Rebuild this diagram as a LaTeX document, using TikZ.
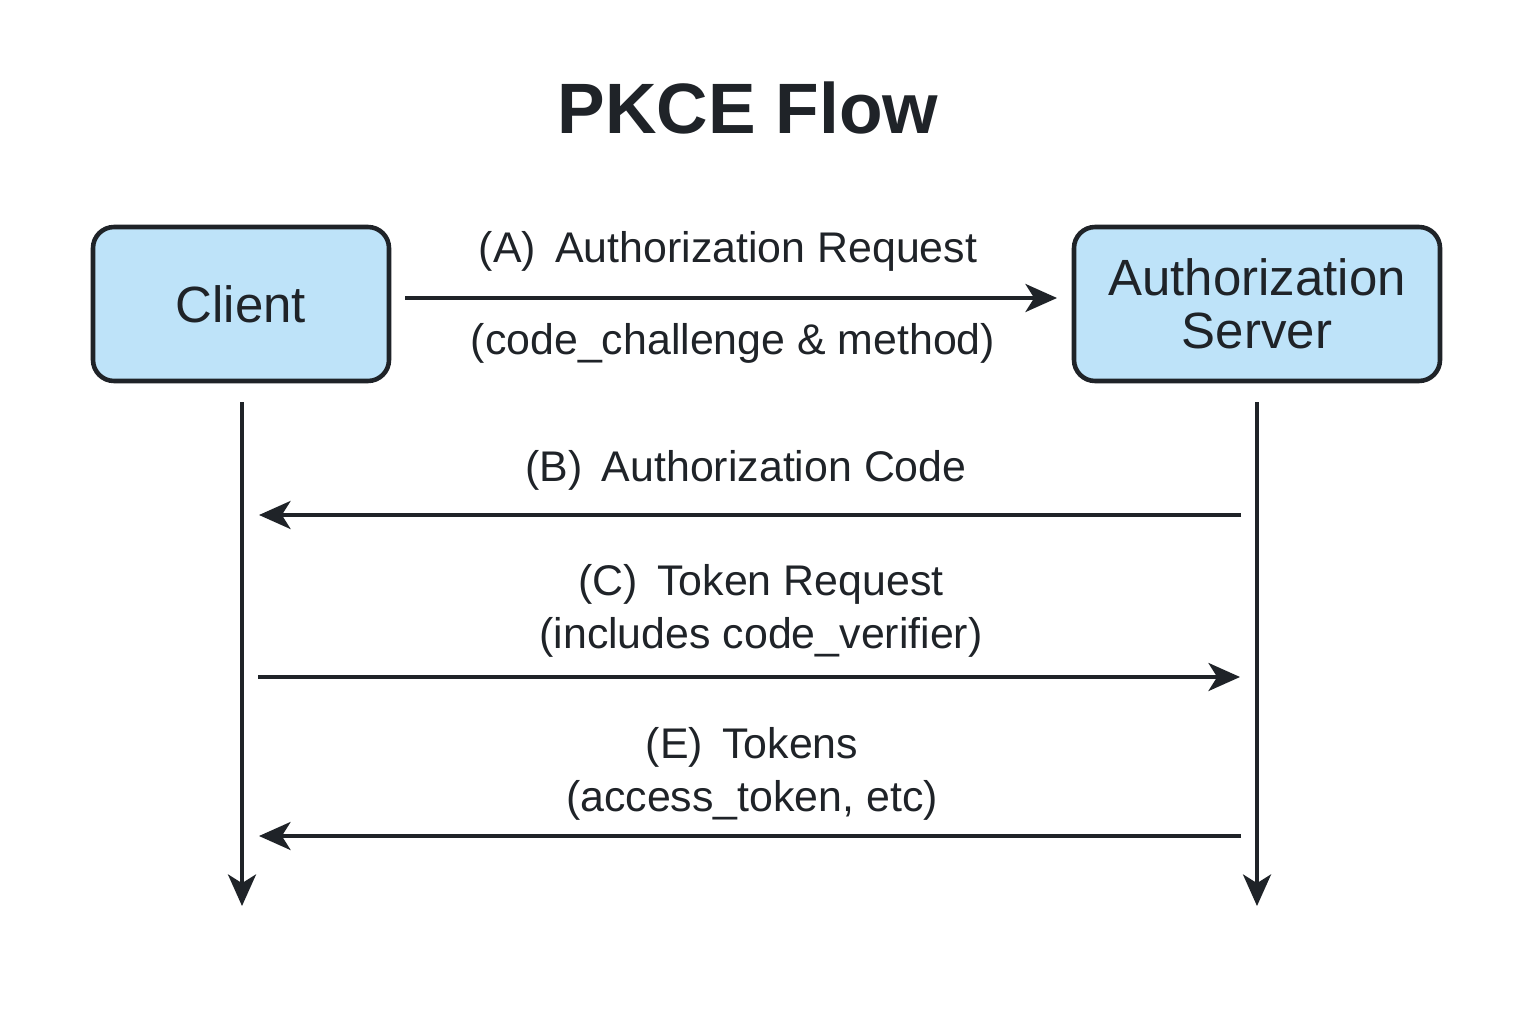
\documentclass[tikz,border=0pt]{standalone}
\usepackage{fontspec}
\setmainfont{Liberation Sans}
\usetikzlibrary{arrows.meta}
\definecolor{boxfill}{HTML}{BEE3F9}
\definecolor{ink}{HTML}{1F2328}
\begin{document}
\begin{tikzpicture}[
    party/.style={draw=ink, fill=boxfill, line width=1.3pt, rounded corners=6pt,
      align=center, text=ink, font=\fontsize{14.5}{15.2}\selectfont},
    lifeline/.style={draw=ink, line width=0.9pt, -{Stealth[length=9pt, width=8pt, inset=2.5pt]}},
    msg/.style={draw=ink, line width=0.9pt, shorten >=0.17cm, shorten <=0.16cm,
      -{Stealth[length=9pt, width=8pt, inset=2.5pt]}},
    lbl/.style={text=ink, align=center, font=\fontsize{12.2}{15}\selectfont}]

    \useasboundingbox (0,0) rectangle (15.36,10.24);

    \node[text=ink, font=\fontsize{20.3}{24}\selectfont\bfseries] (title) at (7.48,9.16) {PKCE Flow};

    \node[party, minimum width=2.96cm, minimum height=1.54cm] (client) at (2.41,7.20) {Client};
    \node[party, minimum width=3.66cm, minimum height=1.54cm] (server) at (12.57,7.20) {Authorization\\Server};

    % lifelines
    \coordinate (cTop) at (2.42,6.22);
    \coordinate (cEnd) at (2.42,1.18);
    \coordinate (sTop) at (12.57,6.22);
    \coordinate (sEnd) at (12.57,1.18);
    \draw[lifeline] (cTop) -- (cEnd);
    \draw[lifeline] (sTop) -- (sEnd);

    % (A)
    \coordinate (cA) at (3.89,7.26);
    \coordinate (sA) at (10.74,7.26);
    \draw[msg] (cA) -- (sA);
    \node[lbl] (labA) at (7.28,7.73) {(A)\hspace{0.45em}Authorization Request};
    \node[lbl] (parA) at (7.33,6.81) {(code\_challenge \& method)};

    % (B)
    \coordinate (cB) at (2.42,5.09);
    \coordinate (sB) at (12.57,5.09);
    \draw[msg] (sB) -- (cB);
    \node[lbl] (labB) at (7.46,5.54) {(B)\hspace{0.45em}Authorization Code};

    % (C)
    \coordinate (cC) at (2.42,3.47);
    \coordinate (sC) at (12.57,3.47);
    \draw[msg] (cC) -- (sC);
    \node[lbl] (labC) at (7.61,4.13) {(C)\hspace{0.45em}Token Request\\(includes code\_verifier)};

    % (E)
    \coordinate (cE) at (2.42,1.88);
    \coordinate (sE) at (12.57,1.88);
    \draw[msg] (sE) -- (cE);
    \node[lbl] (labE) at (7.52,2.50) {(E)\hspace{0.45em}Tokens\\(access\_token, etc)};
  \end{tikzpicture}
\end{document}
